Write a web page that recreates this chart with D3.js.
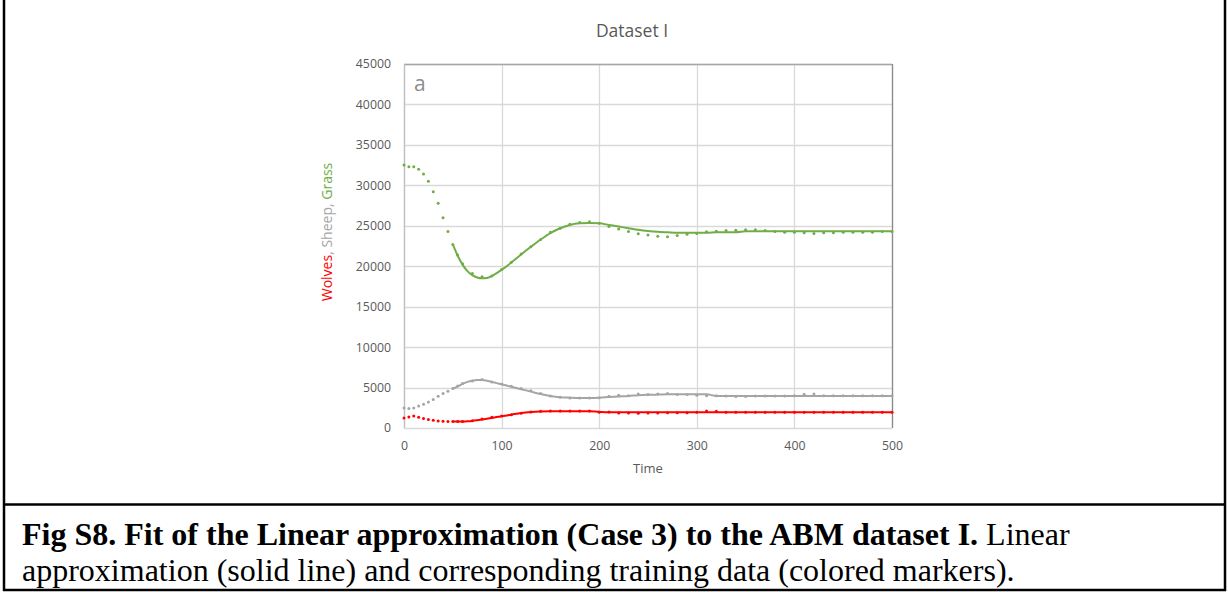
<!DOCTYPE html>
<html>
<head>
<meta charset="utf-8">
<script src="https://cdn.jsdelivr.net/npm/d3@7"></script>
<style>
  html, body { margin: 0; padding: 0; background: #fff; }
  svg { display: block; }
</style>
</head>
<body>
<svg id="chart" width="1228" height="592"></svg>
<script>
// ---------- DATA ----------
const chartTitle = "Dataset I";
const panelLabel = "a";
const xAxisTitle = "Time";
const yAxisTitleParts = [
  { text: "Wolves", color: "#ff0000" },
  { text: ", ", color: "#a5a5a5" },
  { text: "Sheep", color: "#a5a5a5" },
  { text: ", ", color: "#a5a5a5" },
  { text: "Grass", color: "#70ad47" }
];
const xTicks = [0, 100, 200, 300, 400, 500];
const yTicks = [0, 5000, 10000, 15000, 20000, 25000, 30000, 35000, 40000, 45000];

// training data (markers)
const markerTime = [0,5,10,15,20,25,30,35,40,45,50,55,60,70,80,90,100,110,120,130,140,150,160,170,180,190,200,210,220,230,240,250,260,270,280,290,300,310,320,330,340,350,360,370,380,390,400,410,420,430,440,450,460,470,480,490,500];
const grassMarkers = [32500,32300,32300,32000,31400,30500,29200,27800,26000,24300,22700,21400,20300,19100,18700,18800,19600,20500,21500,22400,23300,24200,24700,25200,25400,25500,25300,24900,24600,24300,24000,23850,23700,23650,23800,23950,24050,24250,24330,24420,24460,24500,24500,24420,24300,24200,24200,24150,24050,24150,24150,24200,24200,24200,24200,24300,24300];
const sheepMarkers = [2470,2400,2470,2720,2930,3220,3510,3920,4250,4540,4870,5200,5490,5810,5990,5690,5440,5160,4870,4620,4250,3960,3800,3710,3710,3710,3750,3920,4040,4000,4210,4130,4210,4250,4130,4130,4040,4000,4000,3960,3880,3880,3960,3960,3960,3960,4000,4170,4210,4000,4000,4000,4000,4000,4000,4000,4000];
const wolvesMarkers = [1240,1360,1480,1320,1160,1040,950,870,830,790,790,790,790,910,1110,1320,1480,1650,1810,1980,2060,2100,2100,2100,2100,2100,1940,1980,1860,1860,1810,1860,1860,1900,1900,1900,1940,2100,2060,1940,1940,1940,1940,1940,1940,1940,1940,1940,1940,1940,1940,1940,1940,1940,1940,1940,1940];

// linear approximation (solid lines)
const fitTime = [50,55,60,65,70,75,80,85,90,95,100,110,120,130,140,150,160,170,180,190,200,210,220,230,240,250,260,270,280,290,300,310,320,330,340,350,360,370,380,390,400,410,420,430,440,450,460,470,480,490,500];
const grassFit = [22700,21300,20200,19400,18900,18600,18500,18550,18800,19150,19550,20450,21450,22400,23300,24100,24700,25100,25300,25350,25300,25100,24900,24700,24500,24350,24250,24200,24150,24130,24130,24130,24200,24210,24210,24330,24330,24330,24330,24330,24330,24330,24330,24330,24330,24330,24330,24330,24330,24330,24330];
const sheepFit = [4850,5150,5450,5700,5850,5920,5920,5850,5700,5550,5400,5100,4800,4500,4200,3950,3800,3750,3720,3720,3750,3830,3900,3960,4050,4100,4130,4170,4170,4170,4170,4170,3960,3960,3960,3960,3960,3960,3960,3960,3960,3960,3960,3960,3960,3960,3960,3960,3960,3960,3960];
const wolvesFit = [790,790,800,830,880,960,1050,1150,1250,1350,1450,1650,1850,1980,2050,2080,2080,2080,2080,2080,2000,1950,1950,1950,1950,1950,1950,1950,1950,1950,1950,1950,1950,1950,1950,1950,1950,1950,1950,1950,1950,1950,1950,1950,1950,1950,1950,1950,1950,1950,1950];

const captionBold = "Fig S8. Fit of the Linear approximation (Case 3) to the ABM dataset I.";
const captionRest1 = " Linear";
const captionLine2 = "approximation (solid line) and corresponding training data (colored markers).";

// ---------- LAYOUT ----------
const svg = d3.select("#chart");
const plot = { left: 404, top: 64, width: 488, height: 364 };
const uiFont = "'Open Sans', 'Noto Sans', sans-serif";
const tickColor = "#595959";

svg.append("rect").attr("width", 1228).attr("height", 592).attr("fill", "#fff");

const x = d3.scaleLinear().domain([0, 500]).range([plot.left, plot.left + plot.width]);
const y = d3.scaleLinear().domain([0, 45000]).range([plot.top + plot.height, plot.top]);

// gridlines
const grid = svg.append("g");
grid.selectAll("line.h").data(yTicks).join("line")
  .attr("x1", plot.left).attr("x2", plot.left + plot.width)
  .attr("y1", d => Math.round(y(d)) + 0.5).attr("y2", d => Math.round(y(d)) + 0.5)
  .attr("stroke", "#d9d9d9").attr("stroke-width", 1.3);
grid.selectAll("line.v").data(xTicks).join("line")
  .attr("y1", plot.top).attr("y2", plot.top + plot.height)
  .attr("x1", d => Math.round(x(d)) + 0.5).attr("x2", d => Math.round(x(d)) + 0.5)
  .attr("stroke", "#d9d9d9").attr("stroke-width", 1.3);

// plot border (top & right darker)
svg.append("line").attr("x1", plot.left).attr("x2", plot.left + plot.width)
  .attr("y1", plot.top + 0.5).attr("y2", plot.top + 0.5).attr("stroke", "#a6a6a6").attr("stroke-width", 1.3);
svg.append("line").attr("x1", plot.left + plot.width + 0.5).attr("x2", plot.left + plot.width + 0.5)
  .attr("y1", plot.top).attr("y2", plot.top + plot.height).attr("stroke", "#8c8c8c").attr("stroke-width", 1.3);
svg.append("line").attr("x1", plot.left + 0.5).attr("x2", plot.left + 0.5)
  .attr("y1", plot.top).attr("y2", plot.top + plot.height).attr("stroke", "#bfbfbf").attr("stroke-width", 1.3);

// axes (labels only, via d3 axes)
const xAxis = d3.axisBottom(x).tickValues(xTicks).tickSize(0).tickPadding(13).tickFormat(d3.format("d"));
const gx = svg.append("g").attr("transform", `translate(0,${plot.top + plot.height})`).call(xAxis);
gx.select(".domain").remove();
gx.selectAll("text").attr("fill", tickColor).style("font-family", uiFont).style("font-size", "12.3px");

const yAxis = d3.axisLeft(y).tickValues(yTicks).tickSize(0).tickPadding(13).tickFormat(d3.format("d"));
const gy = svg.append("g").attr("transform", `translate(${plot.left},0)`).call(yAxis);
gy.select(".domain").remove();
gy.selectAll("text").attr("fill", tickColor).style("font-family", uiFont).style("font-size", "12.3px");

// series
const series = [
  { name: "Grass", color: "#70ad47", markers: grassMarkers, fit: grassFit },
  { name: "Sheep", color: "#a5a5a5", markers: sheepMarkers, fit: sheepFit },
  { name: "Wolves", color: "#ff0000", markers: wolvesMarkers, fit: wolvesFit }
];
const line = d3.line().x(d => x(d[0])).y(d => y(d[1])).curve(d3.curveMonotoneX);

series.forEach(s => {
  svg.append("path")
    .datum(fitTime.map((t, i) => [t, s.fit[i]]))
    .attr("d", line).attr("fill", "none").attr("stroke", s.color).attr("stroke-width", 2);
  svg.append("g").selectAll("circle")
    .data(markerTime.map((t, i) => [t, s.markers[i]]))
    .join("circle")
    .attr("cx", d => x(d[0])).attr("cy", d => y(d[1])).attr("r", 1.5)
    .attr("fill", s.color);
});

// panel label
svg.append("text").attr("x", 414).attr("y", 91).text(panelLabel)
  .attr("fill", "#8c8c8c").style("font-family", uiFont).style("font-size", "21px");

// title
svg.append("text").attr("x", 632).attr("y", 37).attr("text-anchor", "middle").text(chartTitle)
  .attr("fill", tickColor).style("font-family", uiFont).style("font-size", "17.5px");

// x axis title
svg.append("text").attr("x", 648).attr("y", 473).attr("text-anchor", "middle").text(xAxisTitle)
  .attr("fill", tickColor).style("font-family", uiFont).style("font-size", "13px");

// y axis title (multi-colored)
const yt = svg.append("text").attr("transform", "translate(332,232) rotate(-90)")
  .attr("text-anchor", "middle").style("font-family", uiFont).style("font-size", "14px");
yt.selectAll("tspan").data(yAxisTitleParts).join("tspan")
  .text(d => d.text).attr("fill", d => d.color);

// frame
const frame = svg.append("g").attr("stroke", "#000").attr("stroke-width", 2.5).attr("fill", "none");
frame.append("line").attr("x1", 4).attr("x2", 4).attr("y1", 0).attr("y2", 591);
frame.append("line").attr("x1", 1225).attr("x2", 1225).attr("y1", 0).attr("y2", 591);
frame.append("line").attr("x1", 3).attr("x2", 1226).attr("y1", 590).attr("y2", 590);
frame.append("line").attr("x1", 3).attr("x2", 1226).attr("y1", 504.5).attr("y2", 504.5);

// caption
const serif = "'Liberation Serif', 'Times New Roman', serif";
const c1 = svg.append("text").attr("x", 22).attr("y", 545).style("font-family", serif).style("font-size", "32px").attr("fill", "#000");
c1.append("tspan").text(captionBold).style("font-weight", "bold");
c1.append("tspan").text(captionRest1);
svg.append("text").attr("x", 22).attr("y", 581).style("font-family", serif).style("font-size", "32px").attr("fill", "#000")
  .text(captionLine2);
</script>
</body>
</html>
